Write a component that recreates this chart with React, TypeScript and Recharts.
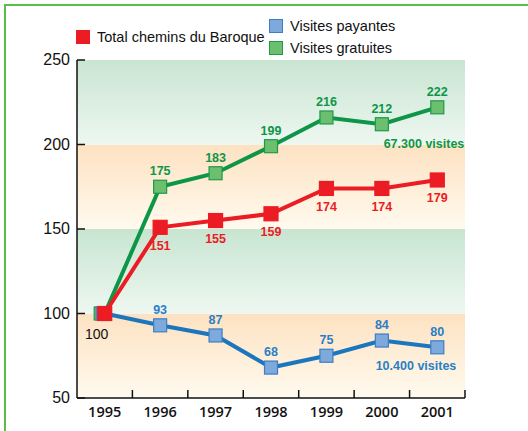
import { CartesianGrid, Line, LineChart, LabelList, XAxis, YAxis } from "recharts";

// Indice base 100 en 1995
const years = ["1995", "1996", "1997", "1998", "1999", "2000", "2001"];
const total = [100, 151, 155, 159, 174, 174, 179];
const payantes = [100, 93, 87, 68, 75, 84, 80];
const gratuites = [100, 175, 183, 199, 216, 212, 222];
const yTicks = [50, 100, 150, 200, 250];
// bandes de fond, de haut en bas
const bandFills = ["url(#bandGreen)", "url(#bandOrange)", "url(#bandGreen)", "url(#bandOrange)"];
const noteGratuites = "67.300 visites";
const notePayantes = "10.400 visites";

const data = years.map((year, i) => ({
  year,
  total: total[i],
  payantes: payantes[i],
  gratuites: gratuites[i],
}));

const GREEN = "#0d9648";
const RED = "#ec1c24";
const BLUE = "#1b76bd";
const HALF_BAND = 27.7;
const labelFont = "'Liberation Sans', Arial, sans-serif";

const squareDot = (fill: string, stroke: string, size: number, shift: number) => (props: any) => {
  const { cx, cy, index } = props;
  const dx = index === 0 ? shift : 0;
  return (
    <rect
      key={`dot-${index}`}
      x={cx - size / 2 + dx}
      y={cy - size / 2}
      width={size}
      height={size}
      fill={fill}
      stroke={stroke}
      strokeWidth={1.2}
    />
  );
};

const YTick = (props: any) => {
  const { x, y, payload } = props;
  return (
    <g>
      <line x1={x + 7} x2={x + 15} y1={y} y2={y} stroke="#111" strokeWidth={1.5} />
      <text x={x} y={y} dy={5} textAnchor="end" fontSize={16} fill="#111" fontFamily="'Liberation Sans', sans-serif">
        {payload.value}
      </text>
    </g>
  );
};

const XTick = (props: any) => {
  const { x, y, payload } = props;
  return (
    <g>
      <line x1={x + HALF_BAND} x2={x + HALF_BAND} y1={y - 8} y2={y - 16} stroke="#111" strokeWidth={1.5} />
      <text x={x} y={y} dy={11} textAnchor="middle" fontSize={14.5} fontWeight={600} fill="#111" fontFamily="'Open Sans', sans-serif">
        {payload.value}
      </text>
    </g>
  );
};

const makeLabel = (color: string, offset: number, note?: string, noteDx = 0, noteDy = 0) => (props: any) => {
  const { x, y, value, index } = props;
  const first = index === 0;
  if (first && color !== RED) return null;
  return (
    <g key={`lab-${index}`}>
      <text
        x={first ? x - 8 : x}
        y={first ? y + 20 : y + offset}
        dy={first ? 5 : 4.5}
        textAnchor="middle"
        fontSize={first ? 14 : 12.5}
        fontWeight={first ? 400 : 700}
        fill={first ? "#111" : color}
        fontFamily={labelFont}
      >
        {value}
      </text>
      {note && index === years.length - 1 && (
        <text x={x + noteDx} y={y + noteDy} dy={4.5} textAnchor="end" fontSize={12.5} fontWeight={700} fill={color} fontFamily={labelFont}>
          {note}
        </text>
      )}
    </g>
  );
};

const LegendItem = ({ left, top, color, border, label }: any) => (
  <div style={{ position: "absolute", left, top, display: "flex", alignItems: "center", gap: 7 }}>
    <span style={{ width: 12, height: 12, background: color, border: `1px solid ${border}`, display: "inline-block" }} />
    <span style={{ fontSize: 14.5, color: "#111", fontFamily: "'Liberation Sans', sans-serif", whiteSpace: "nowrap" }}>{label}</span>
  </div>
);

export default function App() {
  return (
    <div style={{ position: "absolute", left: 0, top: 0, width: 528, height: 431, background: "#fff", overflow: "hidden" }}>
      <div style={{ position: "absolute", left: 4, top: 4, width: 600, height: 500, borderLeft: "2px solid #5cbd4c", borderTop: "2px solid #5cbd4c" }} />
      <LegendItem left={76} top={29} color={RED} border={RED} label="Total chemins du Baroque" />
      <LegendItem left={269} top={18} color="#7ea9dd" border="#3a7fc4" label="Visites payantes" />
      <LegendItem left={269} top={40} color="#6cbf6e" border="#1e9a4a" label="Visites gratuites" />
      <LineChart width={528} height={431} data={data} margin={{ top: 60, right: 63, bottom: 3, left: 0 }} style={{ position: "absolute", left: 0, top: 0 }}>
        <defs>
          <linearGradient id="bandGreen" x1="0" y1="0" x2="0" y2="1">
            <stop offset="0%" stopColor="#c8e5d1" />
            <stop offset="100%" stopColor="#eef7f1" />
          </linearGradient>
          <linearGradient id="bandOrange" x1="0" y1="0" x2="0" y2="1">
            <stop offset="0%" stopColor="#fde2c2" />
            <stop offset="100%" stopColor="#fffaee" />
          </linearGradient>
        </defs>
        <CartesianGrid vertical={false} stroke="none" horizontalFill={bandFills} fillOpacity={1} />
        <XAxis
          dataKey="year"
          height={30}
          padding={{ left: HALF_BAND, right: HALF_BAND }}
          axisLine={{ stroke: "#111", strokeWidth: 1.5 }}
          tickLine={false}
          tickSize={0}
          tickMargin={8}
          tick={<XTick />}
          interval={0}
        />
        <YAxis
          width={77}
          domain={[50, 250]}
          ticks={yTicks}
          axisLine={{ stroke: "#111", strokeWidth: 1.5 }}
          tickLine={false}
          tickSize={0}
          tickMargin={7}
          tick={<YTick />}
        />
        <Line
          dataKey="gratuites"
          stroke={GREEN}
          strokeWidth={4}
          dot={squareDot("#6cbf6e", "#1e9a4a", 13, -4)}
          isAnimationActive={false}
        >
          <LabelList dataKey="gratuites" content={makeLabel(GREEN, -16, noteGratuites, 27, 36)} />
        </Line>
        <Line
          dataKey="payantes"
          stroke={BLUE}
          strokeWidth={4}
          dot={squareDot("#7ea9dd", "#3a7fc4", 13, -2)}
          isAnimationActive={false}
        >
          <LabelList dataKey="payantes" content={makeLabel("#2a7fc6", -16, notePayantes, 19, 18)} />
        </Line>
        <Line
          dataKey="total"
          stroke={RED}
          strokeWidth={4}
          dot={squareDot(RED, RED, 14, 0)}
          isAnimationActive={false}
        >
          <LabelList dataKey="total" content={makeLabel(RED, 18)} />
        </Line>
      </LineChart>
    </div>
  );
}
